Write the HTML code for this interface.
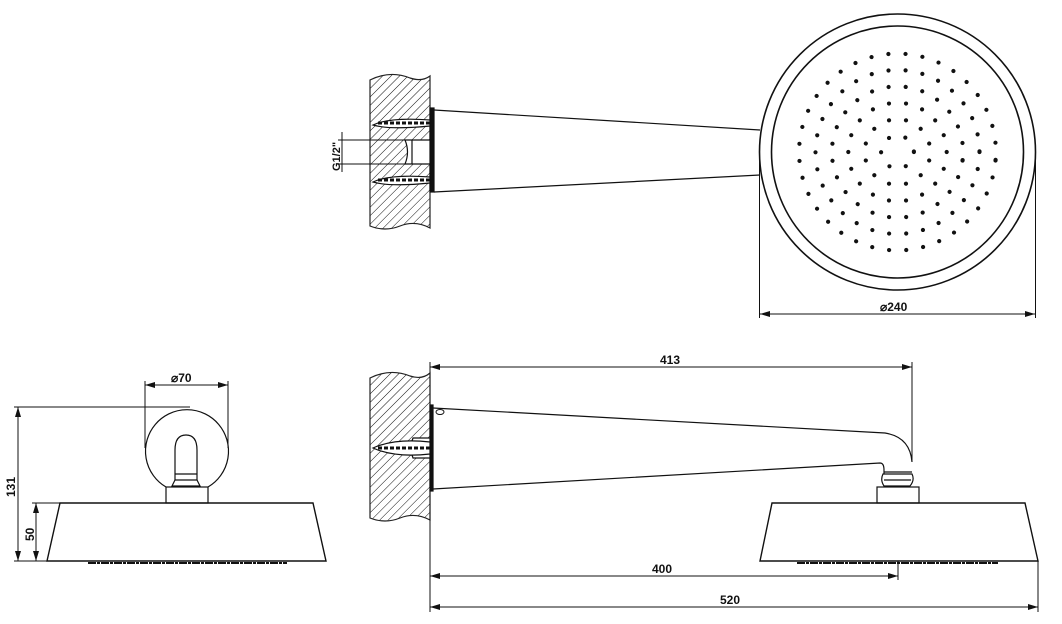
<!DOCTYPE html>
<html><head><meta charset="utf-8"><style>
html,body{margin:0;padding:0;background:#fff;width:1062px;height:624px;overflow:hidden}
text{font-family:"Liberation Sans",sans-serif;font-weight:bold;font-size:12px;fill:#111}
</style></head><body>
<svg width="1062" height="624" viewBox="0 0 1062 624" xmlns="http://www.w3.org/2000/svg">
<defs>
<pattern id="h" width="6" height="6" patternUnits="userSpaceOnUse" patternTransform="rotate(45)">
<line x1="0" y1="0" x2="0" y2="6" stroke="#111" stroke-width="1"/>
</pattern>
<marker id="a" viewBox="0 0 10 6" refX="10" refY="3" markerWidth="10" markerHeight="6" orient="auto-start-reverse" markerUnits="userSpaceOnUse"><path d="M0,0L10,3L0,6z" fill="#111"/></marker>
</defs>
<g stroke="#111" fill="none" stroke-width="1.2">
<path d="M370,80 Q390,70 410,78 Q422,82 430,76 L430,228 Q415,220 400,226 Q385,232 370,226 Z" fill="url(#h)" stroke="#222"/>
<rect x="430" y="108" width="4" height="84" fill="#111"/>
<path d="M405,140 L430,140 L430,164 L405,164 Q410,152 405,140Z" fill="#fff"/>
<line x1="412" y1="140" x2="412" y2="164"/>
<path d="M373,125 Q390,117 430,120 L430,126 Q390,130 373,125Z" fill="#fff"/>
<line x1="378" y1="123" x2="430" y2="123" stroke-width="3" stroke-dasharray="4 2"/>
<path d="M373,182 Q390,174 430,177 L430,183 Q390,187 373,182Z" fill="#fff"/>
<line x1="378" y1="180" x2="430" y2="180" stroke-width="3" stroke-dasharray="4 2"/>
<line x1="434" y1="110" x2="760" y2="130"/>
<line x1="434" y1="192" x2="760" y2="175"/>
<line x1="338" y1="140" x2="412" y2="140" stroke-width="1"/>
<line x1="338" y1="164" x2="412" y2="164" stroke-width="1"/>
<line x1="342" y1="132" x2="342" y2="172" stroke-width="1"/>
<circle cx="897.5" cy="152" r="138" stroke-width="1.6"/>
<circle cx="897.5" cy="152" r="126" stroke-width="1.6"/>
<line x1="759.5" y1="152" x2="759.5" y2="318" stroke-width="1"/>
<line x1="1035.5" y1="152" x2="1035.5" y2="318" stroke-width="1"/>
<line x1="760" y1="314" x2="1035" y2="314" stroke-width="1" marker-start="url(#a)" marker-end="url(#a)"/>
<line x1="145" y1="381" x2="145" y2="448" stroke-width="1"/>
<line x1="228" y1="381" x2="228" y2="448" stroke-width="1"/>
<line x1="145" y1="385" x2="228" y2="385" stroke-width="1" marker-start="url(#a)" marker-end="url(#a)"/>
<line x1="14" y1="407" x2="190" y2="407" stroke-width="1"/>
<line x1="18" y1="407" x2="18" y2="561" stroke-width="1" marker-start="url(#a)" marker-end="url(#a)"/>
<line x1="32" y1="503" x2="60" y2="503" stroke-width="1"/>
<line x1="36" y1="503" x2="36" y2="561" stroke-width="1" marker-start="url(#a)" marker-end="url(#a)"/>
<line x1="14" y1="561" x2="47" y2="561" stroke-width="1"/>
<path d="M166,487 A41.5,41.5 0 1 1 208,487"/>
<path d="M175,480 L175,450 Q175,435 186,435 Q197,435 197,450 L197,480"/>
<path d="M175,480 L172,486 L200,486 L197,480Z"/>
<line x1="175" y1="474" x2="197" y2="474"/>
<rect x="166" y="487" width="42" height="16"/>
<path d="M60,503 L313,503 L326,561 L47,561Z" stroke-width="1.4"/>
<line x1="88" y1="563" x2="287" y2="563" stroke-width="2" stroke-dasharray="8 1 3 1"/>
<path d="M370,378 Q390,368 410,376 Q422,380 430,373 L430,520 Q415,512 400,518 Q385,524 370,518 Z" fill="url(#h)" stroke="#222"/>
<rect x="430" y="405" width="3" height="86" fill="#111"/>
<path d="M413,438 L430,438 L430,458 L413,458 Q409,448 413,438Z" fill="#fff"/>
<path d="M373,448 Q395,438 430,442 L430,454 Q395,458 373,448Z" fill="#fff"/>
<line x1="378" y1="448" x2="430" y2="448" stroke-width="3" stroke-dasharray="4 2"/>
<line x1="430" y1="362" x2="430" y2="612" stroke-width="1"/>
<line x1="430" y1="367" x2="912" y2="367" stroke-width="1" marker-start="url(#a)" marker-end="url(#a)"/>
<line x1="912" y1="362" x2="912" y2="462" stroke-width="1"/>
<ellipse cx="440" cy="412" rx="4" ry="2.5" stroke-width="1"/>
<path d="M433,408 L885,433 Q910,437 912,462"/>
<path d="M433,489 L880,463 Q884,463 884,470 L884,474"/>
<path d="M884,472 L912,472 M883,474 Q880,480 884,486 L910,486 Q915,480 912,474 Z"/>
<line x1="884" y1="480" x2="911" y2="480"/>
<rect x="877" y="487" width="42" height="16"/>
<path d="M772,503 L1025,503 L1038,561 L760,561Z" stroke-width="1.4"/>
<line x1="797" y1="563" x2="998" y2="563" stroke-width="2" stroke-dasharray="8 1 3 1"/>
<line x1="898" y1="561" x2="898" y2="580" stroke-width="1"/>
<line x1="1038" y1="561" x2="1038" y2="612" stroke-width="1"/>
<line x1="430" y1="576" x2="898" y2="576" stroke-width="1" marker-start="url(#a)" marker-end="url(#a)"/>
<line x1="430" y1="607" x2="1038" y2="607" stroke-width="1" marker-start="url(#a)" marker-end="url(#a)"/>
</g>
<g fill="none" stroke="#111" stroke-width="4.2" stroke-linecap="round" stroke-dasharray="0 100">
<circle cx="897.5" cy="152" r="16.4" pathLength="600"/>
<circle cx="897.5" cy="152" r="32.8" pathLength="1200" transform="rotate(15 897.5 152)"/>
<circle cx="897.5" cy="152" r="49.2" pathLength="1800"/>
<circle cx="897.5" cy="152" r="65.6" pathLength="2400" transform="rotate(7.5 897.5 152)"/>
<circle cx="897.5" cy="152" r="82" pathLength="3000"/>
<circle cx="897.5" cy="152" r="98.4" pathLength="3600" transform="rotate(5 897.5 152)"/>
</g>
<text x="880" y="311">⌀240</text>
<text x="171" y="382">⌀70</text>
<text x="660" y="364">413</text>
<text x="652" y="573">400</text>
<text x="720" y="604">520</text>
<text transform="translate(15,497) rotate(-90)">131</text>
<text transform="translate(34,541) rotate(-90)">50</text>
<text transform="translate(340,171) rotate(-90)" style="font-size:11px">G1/2"</text>
</svg>
</body></html>
